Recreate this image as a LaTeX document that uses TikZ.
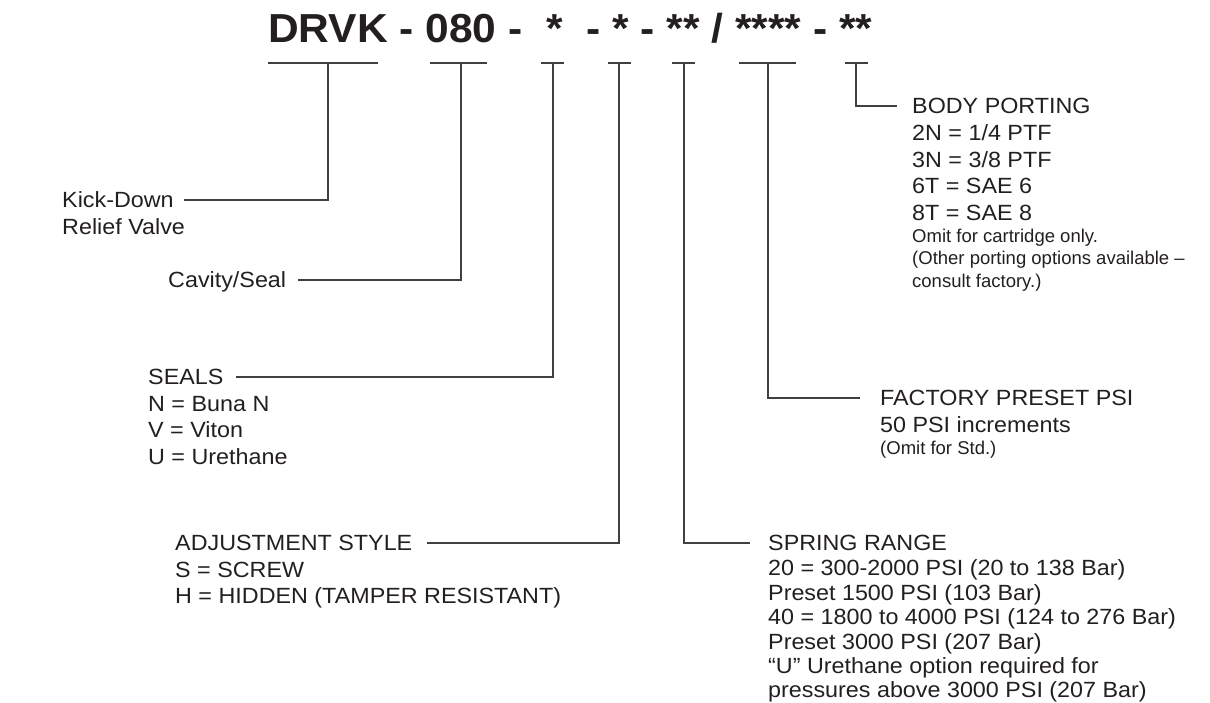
\documentclass[tikz,border=0pt]{standalone}
\usepackage{fontspec}
\setmainfont{Liberation Sans}[FakeStretch=1.06]
\newfontfamily\codefont{Liberation Sans}[FakeStretch=1.05]
\newfontfamily\notefont{Liberation Sans}
\usetikzlibrary{positioning}

\definecolor{ink}{HTML}{231F20}
\tikzset{
  code/.style={anchor=base west, inner sep=0pt, text=ink,
    font=\codefont\fontsize{40.5}{48}\selectfont\bfseries},
  head/.style={anchor=west, inner sep=0pt, text=ink, text height=15.8pt, text depth=0pt,
    font=\fontsize{22}{26.5}\selectfont},
  list/.style={anchor=north west, inner sep=0pt, align=left, text=ink,
    font=\fontsize{22}{26.5}\selectfont},
  tight/.style={font=\fontsize{22}{24.4}\selectfont},
  note/.style={anchor=north west, inner sep=0pt, align=left, text=ink,
    font=\notefont\fontsize{18.5}{22.5}\selectfont},
  lead/.style={line width=1.2pt, draw=black!75},
}

\begin{document}
\begin{tikzpicture}[x=1pt,y=-1pt]
  \useasboundingbox (0,0) rectangle (1210,702);

  % model code
  \node[code] (model) at (268,42) {DRVK - 080 -\ \ *\ \ - * - ** / **** - **};

  % bars under the code fields
  \foreach \l/\r/\m/\n in {268/378/328/1, 430/487/461/2, 541/564/553/3,
      608/631/619/4, 672/695/684/5, 739/796/768/6, 845/868/856/7} {
    \draw[lead] (\l,63) -- (\r,63);
    \coordinate (b\n) at (\m,63);
  }

  % left hand labels
  \node[head] (kick) at (62,200) {Kick-Down};
  \node[list, below=10.7pt of kick.south west, anchor=north west] (relief) {Relief Valve};

  \node[head] (cavity) at (168,280) {Cavity/Seal};

  \node[head] (seals) at (148,377) {SEALS};
  \node[list, below=10.7pt of seals.south west, anchor=north west] (sealsopt)
    {N = Buna N\\V = Viton\\U = Urethane};

  \node[head] (adjust) at (175,543) {ADJUSTMENT STYLE};
  \node[list, below=10.7pt of adjust.south west, anchor=north west] (adjustopt)
    {S = SCREW\\H = HIDDEN (TAMPER RESISTANT)};

  % right hand labels
  \node[head] (spring) at (768,543) {SPRING RANGE};
  \node[list, tight, below=8.6pt of spring.south west, anchor=north west] (springopt)
    {20 = 300-2000 PSI (20 to 138 Bar)\\Preset 1500 PSI (103 Bar)\\
     40 = 1800 to 4000 PSI (124 to 276 Bar)\\Preset 3000 PSI (207 Bar)\\
     “U” Urethane option required for\\pressures above 3000 PSI (207 Bar)};

  \node[head] (factory) at (880,398) {FACTORY PRESET PSI};
  \node[list, below=10.7pt of factory.south west, anchor=north west] (factoryopt)
    {50 PSI increments};
  \node[note, below=8pt of factoryopt.south west, anchor=north west] (factorynote)
    {(Omit for Std.)};

  \node[head] (porting) at (912,106) {BODY PORTING};
  \node[list, below=10.7pt of porting.south west, anchor=north west] (portingopt)
    {2N = 1/4 PTF\\3N = 3/8 PTF\\6T = SAE 6\\8T = SAE 8};
  \node[note, below=8pt of portingopt.south west, anchor=north west] (portingnote)
    {Omit for cartridge only.\\(Other porting options available –\\consult factory.)};

  % leaders
  \draw[lead] (b1) |- ([xshift=10pt]kick.east);
  \draw[lead] (b2) |- ([xshift=12pt]cavity.east);
  \draw[lead] (b3) |- ([xshift=12pt]seals.east);
  \draw[lead] (b4) |- ([xshift=14pt]adjust.east);
  \draw[lead] (b5) |- ([xshift=-18pt]spring.west);
  \draw[lead] (b6) |- ([xshift=-20pt]factory.west);
  \draw[lead] (b7) |- ([xshift=-15pt]porting.west);
\end{tikzpicture}
\end{document}
